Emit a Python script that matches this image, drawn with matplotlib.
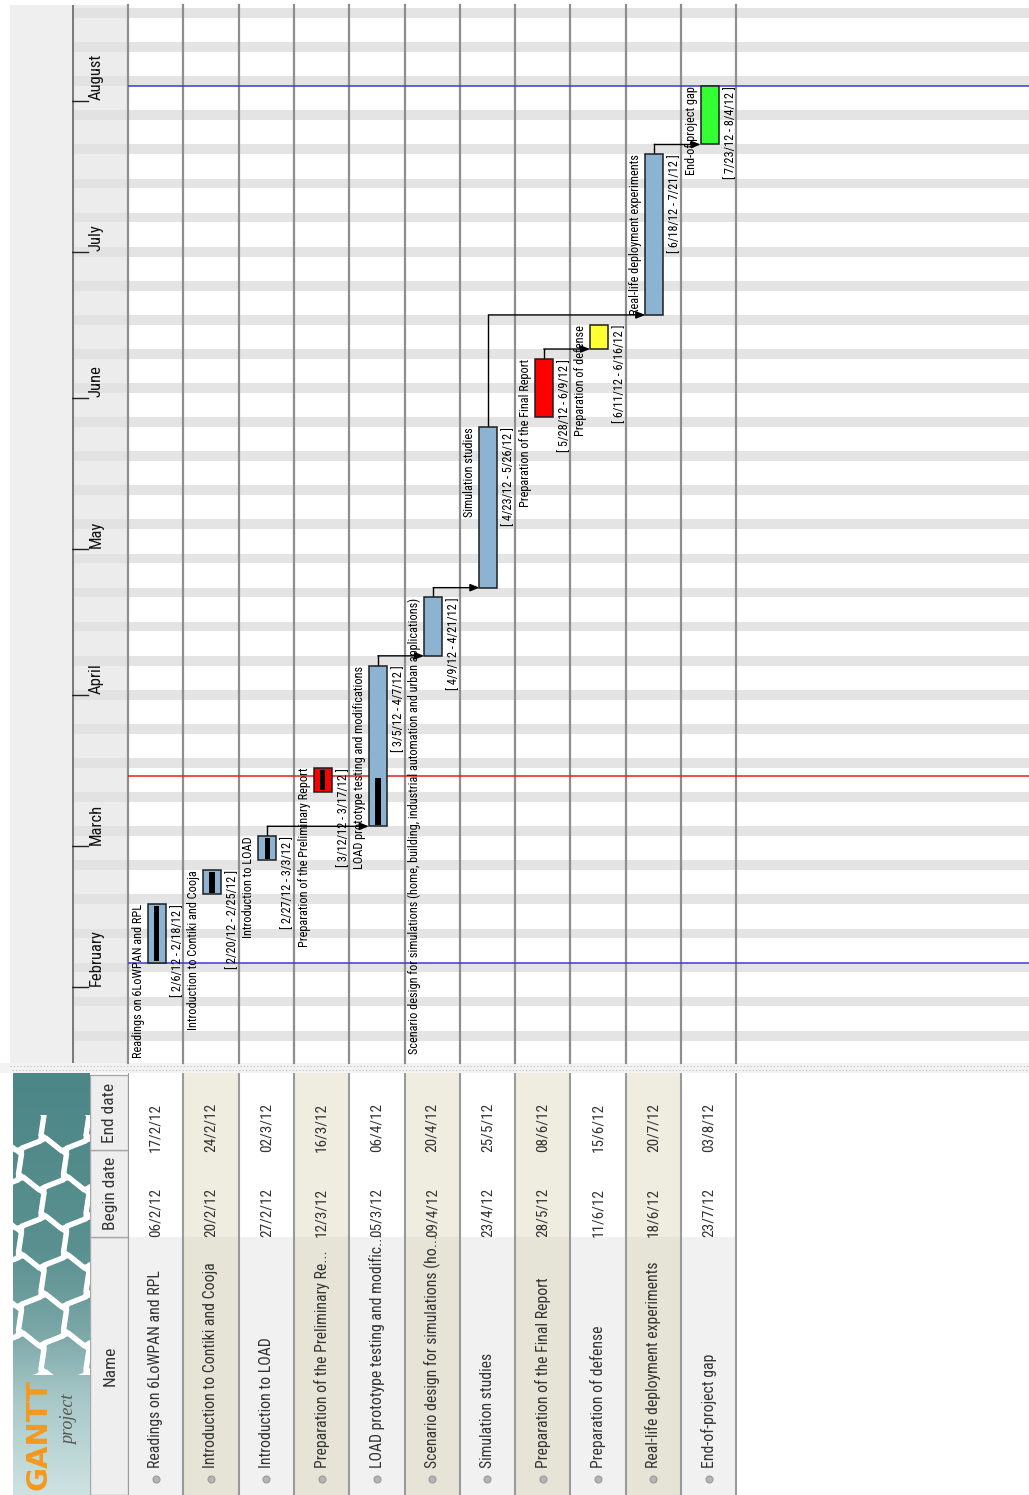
import numpy as np
import matplotlib
matplotlib.use("Agg")
import matplotlib.pyplot as plt
from matplotlib import font_manager as fm
from matplotlib.patches import Rectangle, RegularPolygon

# ---------------- data ----------------
task_names = [
    "Readings on 6LoWPAN and RPL",
    "Introduction to Contiki and Cooja",
    "Introduction to LOAD",
    "Preparation of the Preliminary Report",
    "LOAD prototype testing and modifications",
    "Scenario design for simulations (home, building, industrial automation and urban applications)",
    "Simulation studies",
    "Preparation of the Final Report",
    "Preparation of defense",
    "Real-life deployment experiments",
    "End-of-project gap",
]
table_names = [
    "Readings on 6LoWPAN and RPL",
    "Introduction to Contiki and Cooja",
    "Introduction to LOAD",
    "Preparation of the Preliminary Re...",
    "LOAD prototype testing and modific...",
    "Scenario design for simulations (ho...",
    "Simulation studies",
    "Preparation of the Final Report",
    "Preparation of defense",
    "Real-life deployment experiments",
    "End-of-project gap",
]
begin_dates = ["2012-02-06", "2012-02-20", "2012-02-27", "2012-03-12", "2012-03-05", "2012-04-09",
               "2012-04-23", "2012-05-28", "2012-06-11", "2012-06-18", "2012-07-23"]
end_dates = ["2012-02-17", "2012-02-24", "2012-03-02", "2012-03-16", "2012-04-06", "2012-04-20",
             "2012-05-25", "2012-06-08", "2012-06-15", "2012-07-20", "2012-08-03"]
progress = [1.0, 1.0, 1.0, 1.0, 0.30, 0.0, 0.0, 0.0, 0.0, 0.0, 0.0]
bar_colors = ["#8cb4d2", "#8cb4d2", "#8cb4d2", "#ff0000", "#8cb4d2", "#8cb4d2",
              "#8cb4d2", "#ff0000", "#ffff33", "#8cb4d2", "#33ff33"]
dependencies = [(2, 4), (4, 5), (5, 6), (6, 9), (7, 8), (9, 10)]
month_labels = ["February", "March", "April", "May", "June", "July", "August"]
month_starts = ["2012-02-01", "2012-03-01", "2012-04-01", "2012-05-01", "2012-06-01", "2012-07-01", "2012-08-01"]
today_line = "2012-03-15T10"
project_lines = ["2012-02-06", "2012-08-04"]
header_labels = ["Name", "Begin date", "End date"]

# ---------------- fonts ----------------
avail = {f.name for f in fm.fontManager.ttflist}
FONT, SF = None, 1.0
for cand in ["Liberation Sans Narrow", "Roboto Condensed", "Open Sans Condensed", "DejaVu Sans Condensed"]:
    if cand in avail:
        FONT = cand
        break
STRETCH = "normal"
if FONT is None:
    cond = [f for f in fm.fontManager.ttflist if f.name in ("DejaVu Sans", "Roboto", "Open Sans", "Noto Sans")
            and str(f.stretch) in ("condensed", "semi-condensed", "extra-condensed")]
    if cond:
        FONT, STRETCH = cond[0].name, "condensed"
    else:
        FONT, SF = "Liberation Sans", 0.82
plt.rcParams["font.family"] = [FONT, "DejaVu Sans"]
plt.rcParams["font.stretch"] = STRETCH

# ---------------- geometry ----------------
W, H = 1029, 1495
GT, GB = 5, 1063
FEB1_PX, PX_DAY = 987.0, 4.87
COL0, COLW = 128.0, 55.3
origin = np.datetime64("2012-02-01T00", "h")


def day(s):
    return (np.datetime64(s, "h") - origin) / np.timedelta64(1, "D")


d_top = (FEB1_PX - GT) / PX_DAY
d_bot = (FEB1_PX - GB) / PX_DAY
x_max = (W - COL0) / COLW
n = len(task_names)

fig = plt.figure(figsize=(W / 100, H / 100), dpi=100)
fig.patch.set_facecolor("white")


def px_axes(x0, y0, x1, y1, z=1):
    a = fig.add_axes([x0 / W, 1 - y1 / H, (x1 - x0) / W, (y1 - y0) / H], zorder=z)
    a.set_xticks([])
    a.set_yticks([])
    for s in a.spines.values():
        s.set_visible(False)
    return a


# background (pixel space)
bg = px_axes(0, 0, W, H, 0)
bg.set_xlim(0, W)
bg.set_ylim(H, 0)
bg.add_patch(Rectangle((10, GT), 62, GB - GT, color="#efefef", lw=0))
bg.add_patch(Rectangle((0, GB), W, 10, color="#f3f3f3", lw=0))
bg.plot([10, W], [1066, 1066], ls=(0, (1, 2)), color="#bdbdbd", lw=0.8)
bg.plot([10, W], [1069.5, 1069.5], ls=(1, (1, 2)), color="#bdbdbd", lw=0.8)

# weekend stripes
sat0 = day("2012-01-14")
weekends = np.arange(sat0, d_top + 7, 7)

# ---------------- month header ----------------
hx = px_axes(72, GT, 128, GB, 2)
hx.set_facecolor("#ececec")
hx.set_xlim(0, 1)
hx.set_ylim(d_bot, d_top)
for s in weekends:
    hx.axhspan(s, s + 2, color="#e2e2e2", lw=0)
hx.axvline(0, color="#7c7c7c", lw=2.2)
hx.axvline(1, color="#d2d2d2", lw=1.2)
for lab, ms in zip(month_labels, month_starts):
    d = day(ms)
    hx.plot([0, 16 / 56], [d, d], color="#222222", lw=1)
    hx.text(24 / 56, d + 0.2, lab, rotation=90, ha="center", va="bottom", fontsize=12 * SF, color="#111111")

# ---------------- gantt ----------------
ax = px_axes(COL0, GT, W, GB, 2)
ax.set_facecolor("white")
ax.set_xlim(0, x_max)
ax.set_ylim(d_bot, d_top)
for s in weekends:
    ax.axhspan(s, s + 2, color="#e4e4e4", lw=0, zorder=0)
for k in range(n + 1):
    ax.axvline(k, color="#8e8e8e", lw=1.6, zorder=1, clip_on=False)

bw = 18 / COLW
pw = 5.5 / COLW
off = 1 / COLW
for i in range(n):
    b = day(begin_dates[i])
    e = day(end_dates[i]) + 1
    xl = i + 0.5 - bw / 2 + off
    ax.add_patch(Rectangle((xl, b), bw, e - b, fc=bar_colors[i], ec="#1e1e1e", lw=1.1, zorder=4))
    if progress[i] > 0:
        inset = 0.35
        top = b + (e - b) * progress[i] - (inset if progress[i] >= 1 else 0)
        ax.add_patch(Rectangle((i + 0.5 - pw / 2 + off, b + inset), pw, top - b - inset,
                               fc="#000000", lw=0, zorder=5))
    ax.text(xl - 3 / COLW, e, task_names[i], rotation=90, ha="right", va="top",
            fontsize=8.8 * SF, color="#000000", zorder=6)
    bdt = np.datetime64(begin_dates[i], "D").astype(object)
    edt = (np.datetime64(end_dates[i], "D") + 1).astype(object)
    lab = f"[ {bdt.month}/{bdt.day}/{bdt:%y} - {edt.month}/{edt.day}/{edt:%y} ]"
    ax.text(xl + bw + 5 / COLW, e, lab, rotation=90, ha="left", va="top",
            fontsize=8.8 * SF, color="#000000", zorder=6)

for p, s in dependencies:
    px = p + 0.5 + off
    y0 = day(end_dates[p]) + 1
    y1 = day(begin_dates[s])
    ax.plot([px, px], [y0, y1], color="black", lw=1, zorder=3)
    ax.annotate("", xy=(s + 0.5 - bw / 2 + off, y1), xytext=(px, y1),
                arrowprops=dict(arrowstyle="-|>,head_length=0.55,head_width=0.22", color="black",
                                lw=1, shrinkA=0, shrinkB=0), zorder=3)

ax.axhline(day(today_line), color="#e02020", lw=1.1, zorder=2)
for pl in project_lines:
    ax.axhline(day(pl), color="#3a3ad8", lw=1.1, zorder=2)

# ---------------- table ----------------
TT, TB = 1073, H
NAME_Y = 1237
tx = px_axes(COL0, TT, W, TB, 2)
tx.set_xlim(0, x_max)
tx.set_ylim(TB, TT)
for i in range(n):
    alt = i % 2 == 1
    tx.add_patch(Rectangle((i, TT), 1, NAME_Y - TT, color="#eeede0" if alt else "#ffffff", lw=0))
    tx.add_patch(Rectangle((i, NAME_Y), 1, TB - NAME_Y, color="#e5e4d6" if alt else "#f1f1f1", lw=0))
    bdt = np.datetime64(begin_dates[i], "D").astype(object)
    edt = np.datetime64(end_dates[i], "D").astype(object)
    tx.text(i + 0.5, 1468, table_names[i], rotation=90, ha="center", va="bottom",
            fontsize=11.3 * SF, color="#333333")
    tx.plot(i + 0.5, 1479, "o", ms=5, mfc="#b4b4b4", mec="#9a9a9a", mew=0.8)
    tx.text(i + 0.5, 1188, f"{bdt.day:02d}/{bdt.month}/{bdt:%y}", rotation=90, ha="center", va="top",
            fontsize=11 * SF, color="#333333")
    tx.text(i + 0.5, 1103, f"{edt.day:02d}/{edt.month}/{edt:%y}", rotation=90, ha="center", va="top",
            fontsize=11 * SF, color="#333333")
for k in range(n + 1):
    tx.axvline(k, color="#9a9a9a", lw=1.5)

# table header (pixel space)
cells = [(NAME_Y, TB), (1150, NAME_Y), (TT + 2, 1150)]
for lab, (y0, y1) in zip(header_labels, cells):
    bg.add_patch(Rectangle((90, y0), 38, y1 - y0, fc="#eeeeee", ec="#a8a8a8", lw=1))
    bg.text(110, (y0 + y1) / 2, lab, rotation=90, ha="center", va="center",
            fontsize=12.5 * SF, color="#333333")

# logo
stops_y = np.array([TT, 1250, 1330, 1400, TB])
stops_c = np.array([[76, 134, 134], [90, 144, 144], [122, 166, 166], [168, 200, 200], [206, 226, 226]]) / 255
ys = np.linspace(TT, TB, 200)
grad = np.stack([np.interp(ys, stops_y, stops_c[:, c]) for c in range(3)], axis=1)[:, None, :]
bg.imshow(grad, extent=(13, 90, TB, TT), aspect="auto", origin="upper", zorder=1)
clip = Rectangle((13, 1115), 77, 260, transform=bg.transData)
r = 26
for row in range(-1, 9):
    for col in range(-1, 3):
        cx = 20 + col * np.sqrt(3) * r + (row % 2) * np.sqrt(3) * r / 2
        cy = 1125 + row * 1.5 * r
        hp = RegularPolygon((cx, cy), 6, radius=r, orientation=0.15, fill=False, ec="white", lw=3.5, zorder=2)
        bg.add_patch(hp)
        hp.set_clip_path(clip)
bg.text(38, 1490, "GANTT", rotation=90, ha="center", va="bottom", fontsize=21, fontweight="bold",
        color="#f39a1e", zorder=5, family=["DejaVu Sans"])
bg.text(70, 1420, "project", rotation=90, ha="center", va="center", fontsize=13, style="italic",
        color="#555555", zorder=5, family=["Liberation Serif", "DejaVu Serif"])
bg.set_xlim(0, W)
bg.set_ylim(H, 0)

fig.savefig("out.png", dpi=100, facecolor="white")
